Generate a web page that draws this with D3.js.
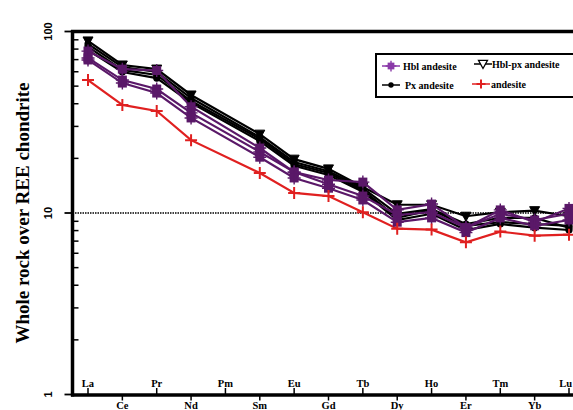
<!DOCTYPE html>
<html><head><meta charset="utf-8">
<script src="https://cdn.jsdelivr.net/npm/d3@7"></script>
<style>body{margin:0;background:#fff;overflow:hidden}svg{display:block}</style>
</head><body>
<svg id="c" width="573" height="410"></svg>
<script>
const elements = ["La","Ce","Pr","Nd","Pm","Sm","Eu","Gd","Tb","Dy","Ho","Er","Tm","Yb","Lu"];
const yTicks = [1, 10, 100];
const yTickLabels = ["1", "10", "100"];
const chondriteLine = 10;

// Hbl andesite (purple)
const hblAndesite1 = [78, 62, 61, 38.5, null, 22.8, 16.8, 15.2, 14.8, 10.4, 11.2, 8.3, 10.4, 8.9, 10.6];
const hblAndesite2 = [71.5, 54, 48.2, 35.6, null, 21.7, 16.8, 14.4, 12.4, 9.75, 10.1, 8.3, 9.9, 9.15, 9.9];
const hblAndesite3 = [69.7, 52, 45.8, 33.4, null, 20.3, 15.6, 13.7, 11.8, 8.9, 9.4, 7.8, 9.4, 8.5, 9.15];
// Px andesite (black circles)
const pxAndesite1 = [85.3, 63.7, 59.8, 43, null, 26.2, 19.1, 17.0, 13.7, 9.9, 10.5, 8.7, 9.4, 9.4, 8.3];
const pxAndesite2 = [82.2, 61.4, 57.6, 41.4, null, 25.6, 18.6, 16.6, 13.4, 9.4, 10.4, 8.5, 8.9, 8.7, 8.5];
const pxAndesite3 = [79, 59.8, 55.4, 40.4, null, 24.9, 18.2, 16.2, 13.1, 9.15, 9.9, 8.06, 8.7, 8.3, 8.06];
// Hbl-px andesite (black triangles)
const hblPxAndesite = [88.7, 65.4, 62.1, 44.7, null, 27.2, 19.8, 17.5, 13.9, 11.1, 11.1, 9.6, 10.1, 10.3, 9.6];
// andesite (red)
const andesite = [54, 39.4, 36.5, 25.2, null, 16.6, 12.9, 12.4, 10.1, 8.2, 8.1, 6.9, 7.9, 7.5, 7.6];

const seriesList = [
  {name:"Hbl-px andesite", data:hblPxAndesite, color:"#000", sym:"tri"},
  {name:"Px andesite", data:pxAndesite1, color:"#000", sym:"circle"},
  {name:"Px andesite", data:pxAndesite2, color:"#000", sym:"circle"},
  {name:"Px andesite", data:pxAndesite3, color:"#000", sym:"circle"},
  {name:"Hbl andesite", data:hblAndesite1, color:"#5a1868", sym:"star"},
  {name:"Hbl andesite", data:hblAndesite2, color:"#5a1868", sym:"star"},
  {name:"Hbl andesite", data:hblAndesite3, color:"#5a1868", sym:"star"},
  {name:"andesite", data:andesite, color:"#e02020", sym:"plus"}
];

const svg = d3.select("#c");
const x = d3.scaleLinear().domain([0, 14]).range([88, 569]);
const y = d3.scaleLog().domain([1, 100]).range([394.5, 31.5]);
const left = 72.5, right = 580;

// dotted chondrite line
svg.append("line").attr("x1", left).attr("x2", right)
  .attr("y1", y(chondriteLine)).attr("y2", y(chondriteLine))
  .attr("stroke", "#000").attr("stroke-width", 1.6).attr("stroke-dasharray", "1.5,1");

// left axis minor ticks
const minor = [];
for (let d of [1, 10]) for (let k = 2; k <= 9; k++) minor.push(d * k);
svg.append("g").selectAll("line").data(minor).join("line")
  .attr("x1", left).attr("x2", left + 6)
  .attr("y1", d => y(d)).attr("y2", d => y(d))
  .attr("stroke", "#000").attr("stroke-width", 1.5);
svg.append("g").selectAll("line").data(yTicks).join("line")
  .attr("x1", left - 8).attr("x2", left)
  .attr("y1", d => y(d)).attr("y2", d => y(d))
  .attr("stroke", "#000").attr("stroke-width", 1.8);
svg.append("g").selectAll("text").data(yTicks).join("text")
  .attr("transform", (d, i) => `translate(52,${y(d)}) rotate(-90)`)
  .attr("text-anchor", "middle")
  .attr("font-family", "Liberation Sans, Arial, sans-serif")
  .attr("font-weight", "bold").attr("font-size", 11)
  .text((d, i) => yTickLabels[i]);

// y title
svg.append("text").attr("transform", "translate(29,213) rotate(-90)")
  .attr("text-anchor", "middle")
  .attr("font-family", "Liberation Serif, Times New Roman, serif")
  .attr("font-weight", "bold").attr("font-size", 19)
  .text("Whole rock over REE chondrite");

// x ticks + labels
const xg = svg.append("g");
elements.forEach((el, i) => {
  const up = i % 2 === 0;
  const last = i === elements.length - 1;
  xg.append("line").attr("x1", x(i)).attr("x2", x(i))
    .attr("y1", 394.5).attr("y2", up ? 388 : 400.5)
    .attr("stroke", "#000").attr("stroke-width", 1.5);
  xg.append("text").attr("x", last ? 572 : x(i)).attr("y", up ? 387 : 409)
    .attr("text-anchor", last ? "end" : "middle")
    .attr("font-family", "Liberation Serif, Times New Roman, serif")
    .attr("font-weight", "bold").attr("font-size", 10.5)
    .text(el);
});

// frame lines
svg.append("line").attr("x1", left).attr("x2", left).attr("y1", 30).attr("y2", 396.5)
  .attr("stroke", "#000").attr("stroke-width", 3.5);
svg.append("line").attr("x1", left - 1.5).attr("x2", right).attr("y1", 31.5).attr("y2", 31.5)
  .attr("stroke", "#000").attr("stroke-width", 3.5);
svg.append("line").attr("x1", left - 1.5).attr("x2", right).attr("y1", 395).attr("y2", 395)
  .attr("stroke", "#000").attr("stroke-width", 3.5);

function drawSymbol(g, sym, cx, cy, color, s) {
  s = s || 1;
  if (sym === "circle") {
    g.append("circle").attr("cx", cx).attr("cy", cy).attr("r", 3.6 * s).attr("fill", color);
  } else if (sym === "tri") {
    const r = 5 * s;
    g.append("path").attr("d", `M${cx - r},${cy - r * 0.8}L${cx + r},${cy - r * 0.8}L${cx},${cy + r}Z`)
      .attr("fill", color).attr("stroke", color).attr("stroke-width", 1);
  } else if (sym === "star") {
    const r = 4.5 * s;
    g.append("rect").attr("x", cx - r).attr("y", cy - r).attr("width", 2 * r).attr("height", 2 * r)
      .attr("fill", color);
    g.append("path").attr("d", `M${cx},${cy - r - 2}V${cy + r + 2}M${cx - r - 2},${cy}H${cx + r + 2}`)
      .attr("stroke", color).attr("stroke-width", 1.4);
  } else if (sym === "plus") {
    const r = 6 * s;
    g.append("path").attr("d", `M${cx},${cy - r}V${cy + r}M${cx - r},${cy}H${cx + r}`)
      .attr("stroke", color).attr("stroke-width", 2);
  }
}

const line = d3.line().defined(d => d.v != null).x(d => x(d.i)).y(d => y(d.v));
const plot = svg.append("g");
seriesList.forEach(s => {
  const pts = s.data.map((v, i) => ({i, v})).filter(d => d.v != null);
  plot.append("path").datum(pts).attr("d", line)
    .attr("fill", "none").attr("stroke", s.color).attr("stroke-width", 2.2);
});
seriesList.forEach(s => {
  const g = plot.append("g");
  s.data.forEach((v, i) => { if (v != null) drawSymbol(g, s.sym, x(i), y(v), s.color); });
});

// legend
const lg = svg.append("g");
lg.append("rect").attr("x", 376).attr("y", 54).attr("width", 210).attr("height", 43)
  .attr("fill", "#fff").attr("stroke", "#000").attr("stroke-width", 2);
const legendItems = [
  {name:"Hbl andesite", sym:"star", color:"#8a3aa8", lx:382, tx:403, cy:66},
  {name:"Hbl-px andesite", sym:"triOpen", color:"#000", lx:474, tx:492, cy:64},
  {name:"Px andesite", sym:"circle", color:"#000", lx:382, tx:405, cy:85},
  {name:"andesite", sym:"plus", color:"#e02020", lx:472, tx:491, cy:84}
];
legendItems.forEach(it => {
  lg.append("line").attr("x1", it.lx).attr("x2", it.lx + 18).attr("y1", it.cy).attr("y2", it.cy)
    .attr("stroke", it.color).attr("stroke-width", 1.5);
  if (it.sym === "triOpen") {
    const cx = it.lx + 9, cy = it.cy, r = 4.5;
    lg.append("path").attr("d", `M${cx - r},${cy - r * 0.8}L${cx + r},${cy - r * 0.8}L${cx},${cy + r}Z`)
      .attr("fill", "#fff").attr("stroke", "#000").attr("stroke-width", 1.3);
  } else {
    drawSymbol(lg, it.sym, it.lx + 9, it.cy, it.color, 0.75);
  }
  lg.append("text").attr("x", it.tx).attr("y", it.cy + 4)
    .attr("font-family", "Liberation Serif, Times New Roman, serif")
    .attr("font-weight", "bold").attr("font-size", 10).text(it.name);
});
</script>
</body></html>
